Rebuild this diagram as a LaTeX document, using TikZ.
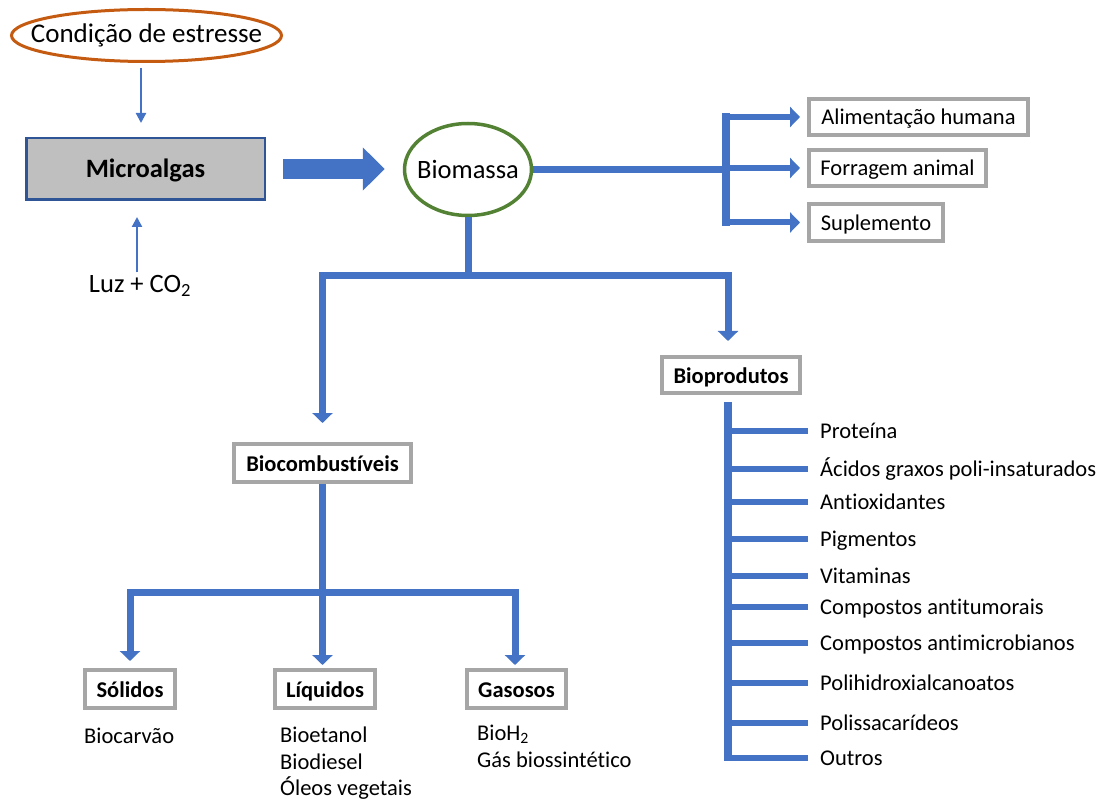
\documentclass[tikz,border=0pt]{standalone}
\usepackage{fontspec}
\setmainfont{Carlito}[Ligatures=NoCommon]
\usetikzlibrary{arrows.meta,calc,shapes}

\begin{document}
\begin{tikzpicture}[x=1pt,y=-1pt,line join=miter]
\definecolor{barblue}{HTML}{4472C4} \definecolor{edgeblue}{HTML}{2F5597}
\definecolor{boxgray}{HTML}{A6A6A6} \definecolor{algagray}{HTML}{BFBFBF}
\definecolor{stressorange}{HTML}{C55A11} \definecolor{biogreen}{HTML}{548235}
\tikzset{big text/.style={font=\fontsize{26.5}{31}\selectfont},
  small text/.style={font=\fontsize{22.5}{27}\selectfont},
  oval/.style={ellipse,inner sep=0pt,big text},
  grey box/.style={draw=boxgray,line width=4pt,small text,text height=16pt,text depth=0pt},
  head box/.style={grey box,font=\fontsize{22.5}{27}\selectfont\bfseries},
  item/.style={small text,anchor=west,inner sep=0pt,text height=16pt,text depth=2pt},
  list text/.style={small text,anchor=base west,inner sep=0pt},
  thin arrow/.style={draw=barblue,line width=2.2pt,-{Triangle[length=10pt,width=10pt]}},
  big arrow/.style={draw=barblue,line width=20pt,-{Triangle[length=22pt,width=42pt]}},
  bar/.style={draw=barblue,line width=7pt},
  bartip/.style={-{Triangle[length=10pt,width=20pt]}},
  tick/.style={draw=barblue,line width=6pt,shorten >=12pt}}
\useasboundingbox (0,0) rectangle (1105,799);

\node[oval,draw=stressorange,line width=3pt,minimum width=270pt,minimum height=52pt,font=\fontsize{27}{31}\selectfont](stress) at (146.5,35.5){\makebox[0pt]{Condição de estresse}};
\node[draw=edgeblue,fill=algagray,line width=2.5pt,minimum width=238.5pt,minimum height=61.5pt,text height=18pt,text depth=0pt,font=\fontsize{26.5}{31}\selectfont\bfseries](micro) at (145.5,169){Microalgas};
\node[big text,anchor=base](luz) at (140,293){Luz + CO\textsubscript{2}};
\node[oval,draw=biogreen,line width=3.5pt,minimum width=127pt,minimum height=92pt](bio) at (468,169.5){\makebox[0pt]{Biomassa}};

\node[grey box,minimum width=219pt,minimum height=36pt](alim) at (918.5,117){Alimentação humana};
\node[grey box,minimum width=177pt,minimum height=36pt](forr) at (897.5,168){Forragem animal};
\node[grey box,minimum width=134pt,minimum height=37pt](supl) at (876,222.5){Suplemento};
\node[head box,minimum width=138pt,minimum height=36pt](biopro) at (731,375){Bioprodutos};
\node[head box,minimum width=177pt,minimum height=38pt](biocomb) at (322.5,463){Biocombustíveis};
\node[head box,minimum width=90pt,minimum height=38pt](solidos) at (130,689){Sólidos};
\node[head box,minimum width=100pt,minimum height=38pt](liquidos) at (325,689){Líquidos};
\node[head box,minimum width=99pt,minimum height=38pt](gasosos) at (516.5,689){Gasosos};

\node[list text](biocarvao) at (84,743){Biocarvão};
\node[list text](bioetanol) at (280,742){Bioetanol};
\node[list text](biodiesel) at (280,769){Biodiesel};
\node[list text](oleos) at (280,795){Óleos vegetais};
\node[list text](bioh) at (477,740){BioH\textsubscript{2}};
\node[list text](gasbio) at (477,767){Gás biossintético};

\coordinate (a1) at (141,0); \coordinate (a2) at (137,0);
\draw[thin arrow,shorten <=5pt,shorten >=14pt] (a1 |- stress.south) -- (a1 |- micro.north);
\draw[thin arrow,shorten >=16pt] (a2 |- luz.north) -- (a2 |- micro.south);
\draw[big arrow,shorten <=17pt,shorten >=18pt] (micro.east) -- (micro.east -| bio.west);

\coordinate (fork) at (726,0);
\draw[bar] (bio.east) -- (fork |- bio.east);
\draw[bar,line width=8pt,line cap=rect] (fork |- alim.west) -- (fork |- supl.west);
\foreach \n in {alim,forr,supl}
  \draw[bar,bartip,line width=6pt,shorten >=7pt] (fork |- \n.west) -- (\n.west);

\coordinate (hub) at (bio.south |- 0,275.5);
\draw[bar] (bio.south) -- (hub);
\draw[bar,bartip,shorten >=19pt] (hub) -| (biocomb.north);
\draw[bar,bartip,shorten >=14pt] (hub) -| ([xshift=-3pt]biopro.north);

\coordinate (hub2) at (biocomb.south |- 0,592.5);
\draw[bar] (biocomb.south) -- (hub2);
\draw[bar,bartip,shorten >=7pt] (hub2) -| (solidos.north);
\draw[bar,bartip,shorten >=3pt] (hub2) -- (hub2 |- liquidos.north);
\draw[bar,bartip,shorten >=3pt] (hub2) -| ([xshift=-1.5pt]gasosos.north);

\coordinate (spine) at (727.5,0);
\foreach \n/\t/\y in {prot/Proteína/431,acid/Ácidos graxos poli-insaturados/469,
    antiox/Antioxidantes/502,pigm/Pigmentos/539,vitam/Vitaminas/576,
    tumor/Compostos antitumorais/607,antimic/Compostos antimicrobianos/643,
    pha/Polihidroxialcanoatos/683,polis/Polissacarídeos/723,outros/Outros/758}{
  \node[item](\n) at (820,\y){\t};
  \draw[tick] (spine |- \n.west) -- (\n.west);
}
\draw[bar,line width=8pt] ($(spine |- biopro.south)+(0,7)$) -- ($(spine |- outros.west)+(0,3)$);
\end{tikzpicture}
\end{document}
